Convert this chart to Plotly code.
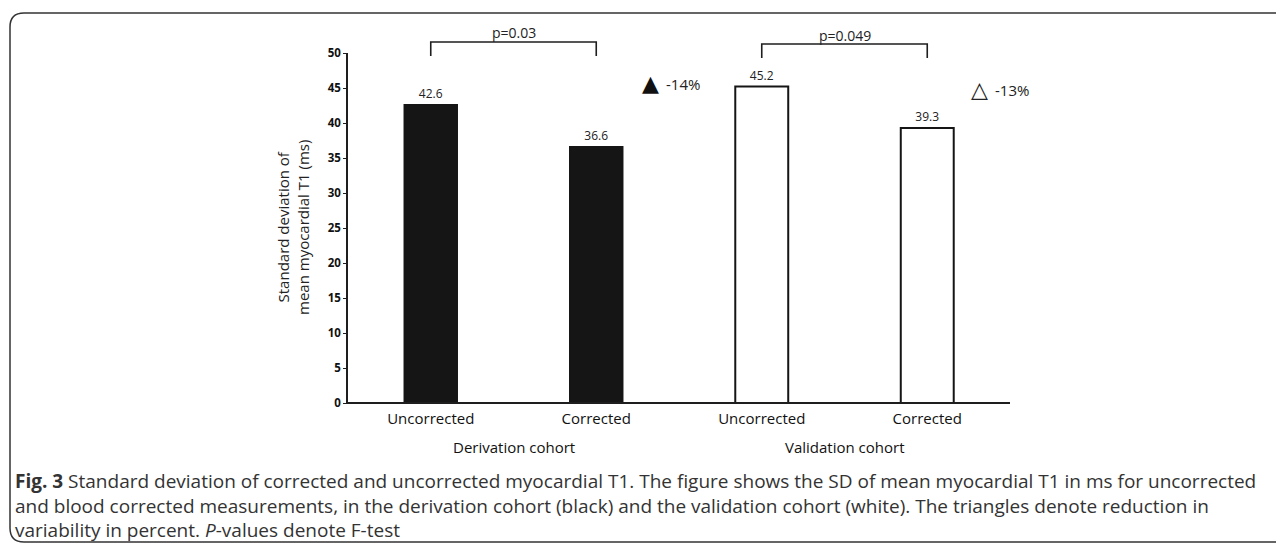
import plotly.graph_objects as go

# ---- data ----
categories = ["Uncorrected", "Corrected", "Uncorrected", "Corrected"]
cohorts = ["Derivation cohort", "Validation cohort"]
derivation_values = [42.6, 36.6]
validation_values = [45.2, 39.3]
p_values = ["p=0.03", "p=0.049"]
reductions = ["-14%", "-13%"]
y_ticks = [0, 5, 10, 15, 20, 25, 30, 35, 40, 45, 50]
caption_lines = [
    "<b>Fig. 3</b> Standard deviation of corrected and uncorrected myocardial T1. The figure shows the SD of mean myocardial T1 in ms for uncorrected",
    "and blood corrected measurements, in the derivation cohort (black) and the validation cohort (white). The triangles denote reduction in",
    "variability in percent. <i>P</i>-values denote F-test",
]

# ---- layout geometry (screen pixels; page body adds an 8px offset) ----
OFF = 8
SW, SH = 1284, 548
W, H = SW - OFF, SH - OFF
L, R, T, B = 348, 1010, 53, 403          # plot area in screen pixels
slots = list(range(len(categories)))
bar_w = 0.32

def px(xp):
    return (xp - L) / (R - L)

def py(yp):
    return (B - yp) / (B - T)

FONT = "Open Sans"
INK = "#1e1e1e"

fig = go.Figure()
fig.add_trace(go.Bar(
    x=slots[:2], y=derivation_values, width=bar_w,
    marker=dict(color="#151515", line=dict(color="#151515", width=1.5)),
    text=[f"{v:.1f}" for v in derivation_values], textposition="outside",
    textfont=dict(family=FONT, size=12, color="#222"), cliponaxis=False,
    showlegend=False,
))
fig.add_trace(go.Bar(
    x=slots[2:], y=validation_values, width=bar_w,
    marker=dict(color="white", line=dict(color="#151515", width=2)),
    text=[f"{v:.1f}" for v in validation_values], textposition="outside",
    textfont=dict(family=FONT, size=12, color="#222"), cliponaxis=False,
    showlegend=False,
))

fig.update_layout(
    width=W, height=H,
    margin=dict(l=L - OFF, r=W - (R - OFF), t=T - OFF, b=H - (B - OFF), pad=0),
    paper_bgcolor="white", plot_bgcolor="white",
    font=dict(family=FONT, color="#222"),
    xaxis=dict(range=[-0.5, len(categories) - 0.5], tickvals=slots, ticktext=categories,
               showgrid=False, zeroline=False, showline=False, ticks="",
               tickfont=dict(family=FONT, size=15, color="#111"),
               ticklabelstandoff=5),
    yaxis=dict(range=[0, 50], tickvals=y_ticks, showgrid=False, zeroline=False,
               showline=True, linecolor=INK, linewidth=1.5, ticks="outside",
               ticklen=3, tickcolor=INK, tickwidth=1.2,
               tickfont=dict(family=FONT, size=11.5, color="#111", weight="bold")),
)

shapes = []
# x axis baseline
shapes.append(dict(type="line", xref="paper", yref="paper", x0=px(346), x1=1, y0=0, y1=0,
                   line=dict(color=INK, width=2)))
# significance brackets
bracket_y = [(42, 56), (44, 58)]
for i, (top, bot) in enumerate(bracket_y):
    xa, xb = slots[2 * i], slots[2 * i + 1]
    shapes.append(dict(type="path", xref="x", yref="paper",
                       path=f"M {xa},{py(bot)} L {xa},{py(top)} L {xb},{py(top)} L {xb},{py(bot)}",
                       line=dict(color=INK, width=1.6)))
# rounded frame (open on the right)
fl, ft, fb, r = 10, 13, 542, 14
frame = (f"M {px(fl)},{py(ft + r)} Q {px(fl)},{py(ft)} {px(fl + r)},{py(ft)} "
         f"L {px(1300)},{py(ft)} M {px(fl)},{py(ft + r)} L {px(fl)},{py(fb - r)} "
         f"Q {px(fl)},{py(fb)} {px(fl + r)},{py(fb)} L {px(1300)},{py(fb)}")
shapes.append(dict(type="path", xref="paper", yref="paper", path=frame,
                   line=dict(color="#333", width=1.5)))
fig.update_layout(shapes=shapes)

def note(x, y, text, size, color="#222", family=FONT, xanchor="center", xref="paper", **kw):
    return dict(x=x, xref=xref, y=y, yref="paper", text=text, showarrow=False,
                xanchor=xanchor, yanchor="middle",
                font=dict(family=family, size=size, color=color), **kw)

ann = []
# p-values
for i, (top, _) in enumerate(bracket_y):
    xa, xb = slots[2 * i], slots[2 * i + 1]
    ann.append(note((xa + xb) / 2, py(top - 9), p_values[i], 14, xref="x"))
# triangles + reductions
ann.append(note(px(650), py(83), "▲", 22, color="#111", family="DejaVu Sans"))
ann.append(note(px(664), py(84), reductions[0], 15, xanchor="left"))
ann.append(note(px(979), py(89), "△", 22, color="#222", family="DejaVu Sans"))
ann.append(note(px(993), py(90), reductions[1], 15, xanchor="left"))
# cohort labels
for i, name in enumerate(cohorts):
    ann.append(note((slots[2 * i] + slots[2 * i + 1]) / 2, py(447), name, 15,
                    color="#111", xref="x"))
# y-axis title
ann.append(note(px(293), py(228), "Standard deviation of<br>mean myocardial T1 (ms)", 15,
                textangle=-90))
# caption
cap_y = [481, 506, 530]
for line, yy in zip(caption_lines, cap_y):
    ann.append(note(px(13), py(yy), line, 19, color="#333", xanchor="left"))
fig.update_layout(annotations=ann)

fig.write_html("out.html")
